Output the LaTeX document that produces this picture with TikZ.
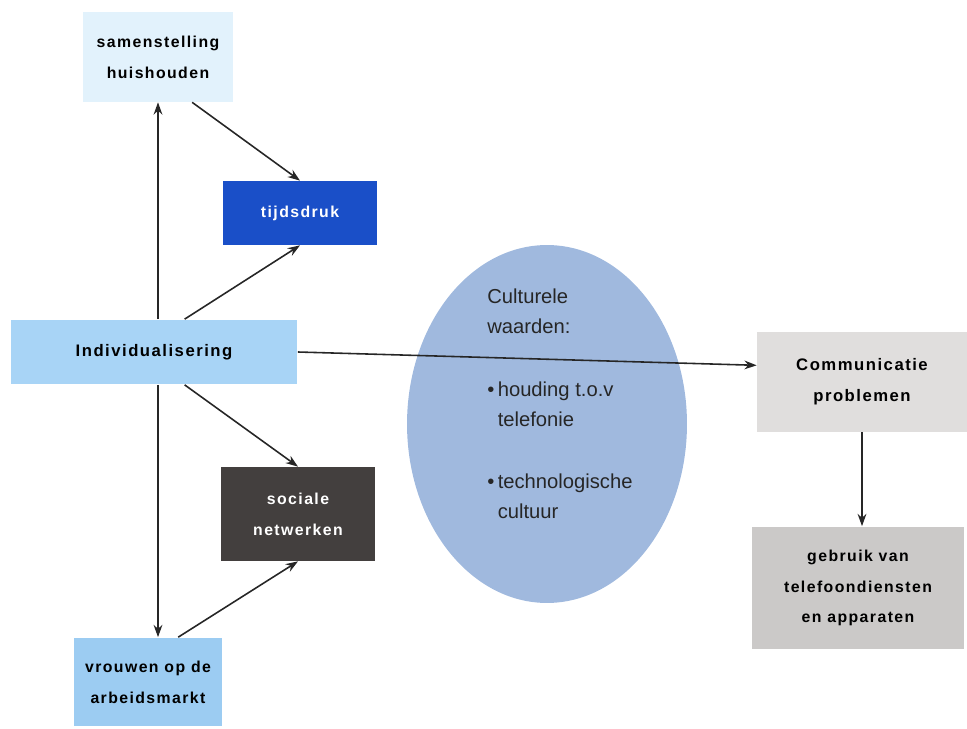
\documentclass[tikz,border=0pt]{standalone}
\usepackage{fontspec}
\setmainfont{Liberation Sans}
\newfontfamily\spacedfont[LetterSpace=9]{Liberation Sans}
\usetikzlibrary{arrows.meta, shapes.geometric}

\definecolor{paleblue}{HTML}{E2F2FC}
\definecolor{deepblue}{HTML}{1A4FC8}
\definecolor{midblue}{HTML}{A8D4F6}
\definecolor{softblue}{HTML}{9CCCF2}
\definecolor{ovalblue}{HTML}{A0B9DE}
\definecolor{darkgrey}{HTML}{433F3E}
\definecolor{lightgrey}{HTML}{E0DEDD}
\definecolor{midgrey}{HTML}{CBC9C8}

\begin{document}
\begin{tikzpicture}[
    >={Stealth[length=7pt, width=5pt]},
    x=0.02cm, y=-0.02cm,
    link/.style={->, line width=0.9pt, draw=black!85},
    box/.style={rectangle, inner sep=0pt, align=center,
        font=\spacedfont\bfseries\fontsize{9}{17.5}\selectfont}
]
\useasboundingbox (0,0) rectangle (967,729);

% Left column
\node[box, fill=paleblue, minimum width=3cm, minimum height=1.8cm] (samen) at (158,57) {samenstelling\\huishouden};
\node[box, fill=midblue, minimum width=5.74cm, minimum height=1.3cm, font=\spacedfont\bfseries\fontsize{9.5}{17.5}\selectfont] (indiv) at (154,352) {Individualisering};
\node[box, fill=softblue, minimum width=2.98cm, minimum height=1.78cm] (vrouwen) at (148,682) {vrouwen op de\\arbeidsmarkt};

% Middle column
\node[box, fill=deepblue, text=white, minimum width=3.08cm, minimum height=1.28cm] (tijd) at (300,213) {tijdsdruk};
\node[box, fill=darkgrey, text=white, minimum width=3.1cm, minimum height=1.88cm] (sociaal) at (298,514) {sociale\\netwerken};

% Culture oval
\node[ellipse, fill=ovalblue, minimum width=5.6cm, minimum height=7.16cm, inner sep=0pt] (cultuur) at (547,424) {};
\node[anchor=north west, inner sep=0pt, align=left, text=black!85, font=\fontsize{11.5}{17}\selectfont] (waarden) at (487,289)
    {Culturele\\waarden:\\[18.5pt]%
     •\,houding t.o.v\\\phantom{•\,}telefonie\\[18.5pt]%
     •\,technologische\\\phantom{•\,}cultuur};

% Right column
\node[box, fill=lightgrey, minimum width=4.2cm, minimum height=2cm, font=\spacedfont\bfseries\fontsize{9.5}{17.5}\selectfont] (comm) at (862,382) {Communicatie\\problemen};
\node[box, fill=midgrey, minimum width=4.26cm, minimum height=2.46cm] (gebruik) at (858,588) {gebruik van\\telefoondiensten\\en apparaten};

% Connectors
\draw[link] (samen.south |- indiv.north) -- (samen.south);
\draw[link] (samen.south |- indiv.south) -- (samen.south |- vrouwen.north);
\draw[link] (samen.-53) -- (tijd.north);
\draw[link] (indiv.47) -- (tijd.south);
\draw[link] (indiv.-47) -- (sociaal.north);
\draw[link] (vrouwen.56) -- (sociaal.south);
\draw[link] (indiv.east) -- (comm.171);
\draw[link] (comm.south) -- (comm.south |- gebruik.north);

\end{tikzpicture}
\end{document}
